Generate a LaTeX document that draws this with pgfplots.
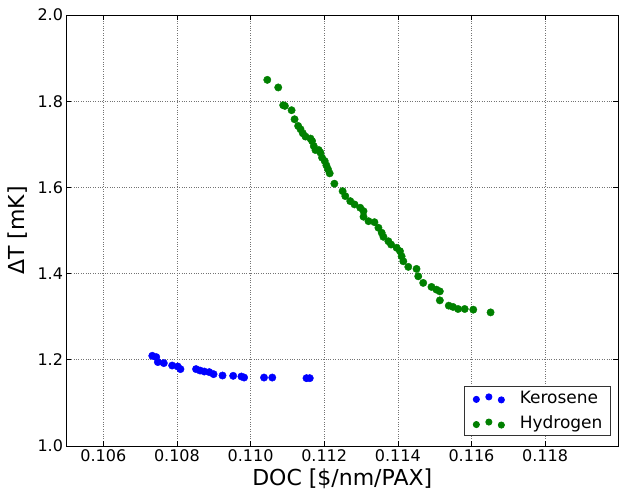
\documentclass[border=0pt]{standalone}
\usepackage{fontspec}
\setmainfont{DejaVu Sans}
\usepackage{pgfplots}
\pgfplotsset{compat=1.18}
\definecolor{mplblue}{RGB}{0,0,255}
\definecolor{mplgreen}{RGB}{0,128,0}
\begin{document}
\begin{tikzpicture}
\path[use as bounding box] (-66.5pt,-49pt) rectangle (552.5pt,446pt);
\begin{axis}[
 scale only axis, width=551.5pt, height=431pt,
 xmin=0.105, xmax=0.11998, ymin=1.0, ymax=2.0,
 xtick={0.106,0.108,0.110,0.112,0.114,0.116,0.118},
 ytick={1.0,1.2,1.4,1.6,1.8,2.0},
 scaled x ticks=false,
 xticklabel style={/pgf/number format/.cd, fixed, precision=3, fixed zerofill},
 yticklabel style={/pgf/number format/.cd, fixed, precision=1, fixed zerofill},
 /pgf/number format/assume math mode=true,
 tick label style={font=\fontsize{16}{19}\selectfont},
 label style={font=\fontsize{22}{26}\selectfont},
 xlabel={DOC [\$/nm/PAX]},
 ylabel={ΔT [mK]},
 xlabel style={at={(axis description cs:0.5,-0.0766)}, anchor=center},
 ylabel style={at={(axis description cs:-0.088,0.5)}, anchor=center},
 tick align=inside, major tick length=5pt,
 tick style={black, line width=0.6pt},
 axis line style={black, line width=0.8pt},
 grid=major,
 major grid style={dotted, black!55, line width=0.6pt},
 legend style={at={(0.987,0.024)}, anchor=south east, font=\fontsize{17}{20}\selectfont,
   draw=black!80, line width=0.8pt, inner xsep=6pt, inner ysep=3pt, row sep=7pt,
   cells={anchor=west}},
 legend cell align=left,
]
\addplot[only marks, mark=*, mark size=3.7pt, color=mplblue, mark options={draw=mplblue, fill=mplblue},
 legend image code/.code={
  \path (-6pt,0pt) (41pt,0pt);
  \fill[mplblue] (0pt,-1.5pt) circle (3.1pt);
  \fill[mplblue] (12.5pt,1pt) circle (3.1pt);
  \fill[mplblue] (25pt,-2pt) circle (3.1pt);}]
coordinates {
(0.107330,1.2093) (0.107438,1.2063) (0.107481,1.1947) (0.107643,1.1923)
(0.107870,1.1867) (0.108022,1.1844) (0.108095,1.1784) (0.108519,1.1784)
(0.108627,1.1751) (0.108743,1.1728) (0.108878,1.1714) (0.108995,1.1667)
(0.109238,1.1635) (0.109527,1.1628) (0.109751,1.1612) (0.109824,1.1588)
(0.110365,1.1588) (0.110589,1.1588) (0.111519,1.1574) (0.111608,1.1574)
};
\addlegendentry{Kerosene}
\addplot[only marks, mark=*, mark size=3.7pt, color=mplgreen, mark options={draw=mplgreen, fill=mplgreen},
 legend image code/.code={
  \path (-6pt,0pt) (41pt,0pt);
  \fill[mplgreen] (0pt,-1.5pt) circle (3.1pt);
  \fill[mplgreen] (12.5pt,1pt) circle (3.1pt);
  \fill[mplgreen] (25pt,-2pt) circle (3.1pt);}]
coordinates {
(0.110454,1.8495) (0.110751,1.8319) (0.110886,1.7907) (0.110932,1.7891)
(0.111114,1.7791) (0.111195,1.7581) (0.111292,1.7426) (0.111357,1.7349)
(0.111419,1.7256) (0.111492,1.7179) (0.111627,1.7133) (0.111670,1.7077)
(0.111716,1.6960) (0.111762,1.6867) (0.111851,1.6867) (0.111897,1.6807)
(0.111941,1.6691) (0.112014,1.6612) (0.112059,1.6512) (0.112103,1.6419)
(0.112149,1.6326) (0.112276,1.6086) (0.112500,1.5914) (0.112573,1.5798)
(0.112708,1.5681) (0.112824,1.5605) (0.112978,1.5528) (0.113068,1.5449)
(0.113068,1.5319) (0.113203,1.5216) (0.113365,1.5193) (0.113473,1.5063)
(0.113562,1.4947) (0.113608,1.4853) (0.113743,1.4751) (0.113816,1.4674)
(0.113968,1.4598) (0.114059,1.4519) (0.114103,1.4402) (0.114149,1.4286)
(0.114284,1.4156) (0.114508,1.4109) (0.114554,1.3937) (0.114689,1.3784)
(0.114914,1.3691) (0.115049,1.3628) (0.115141,1.3588) (0.115141,1.3379)
(0.115384,1.3256) (0.115500,1.3226) (0.115635,1.3179) (0.115816,1.3179)
(0.116049,1.3163) (0.116519,1.3100)
};
\addlegendentry{Hydrogen}
\end{axis}
\end{tikzpicture}
\end{document}
